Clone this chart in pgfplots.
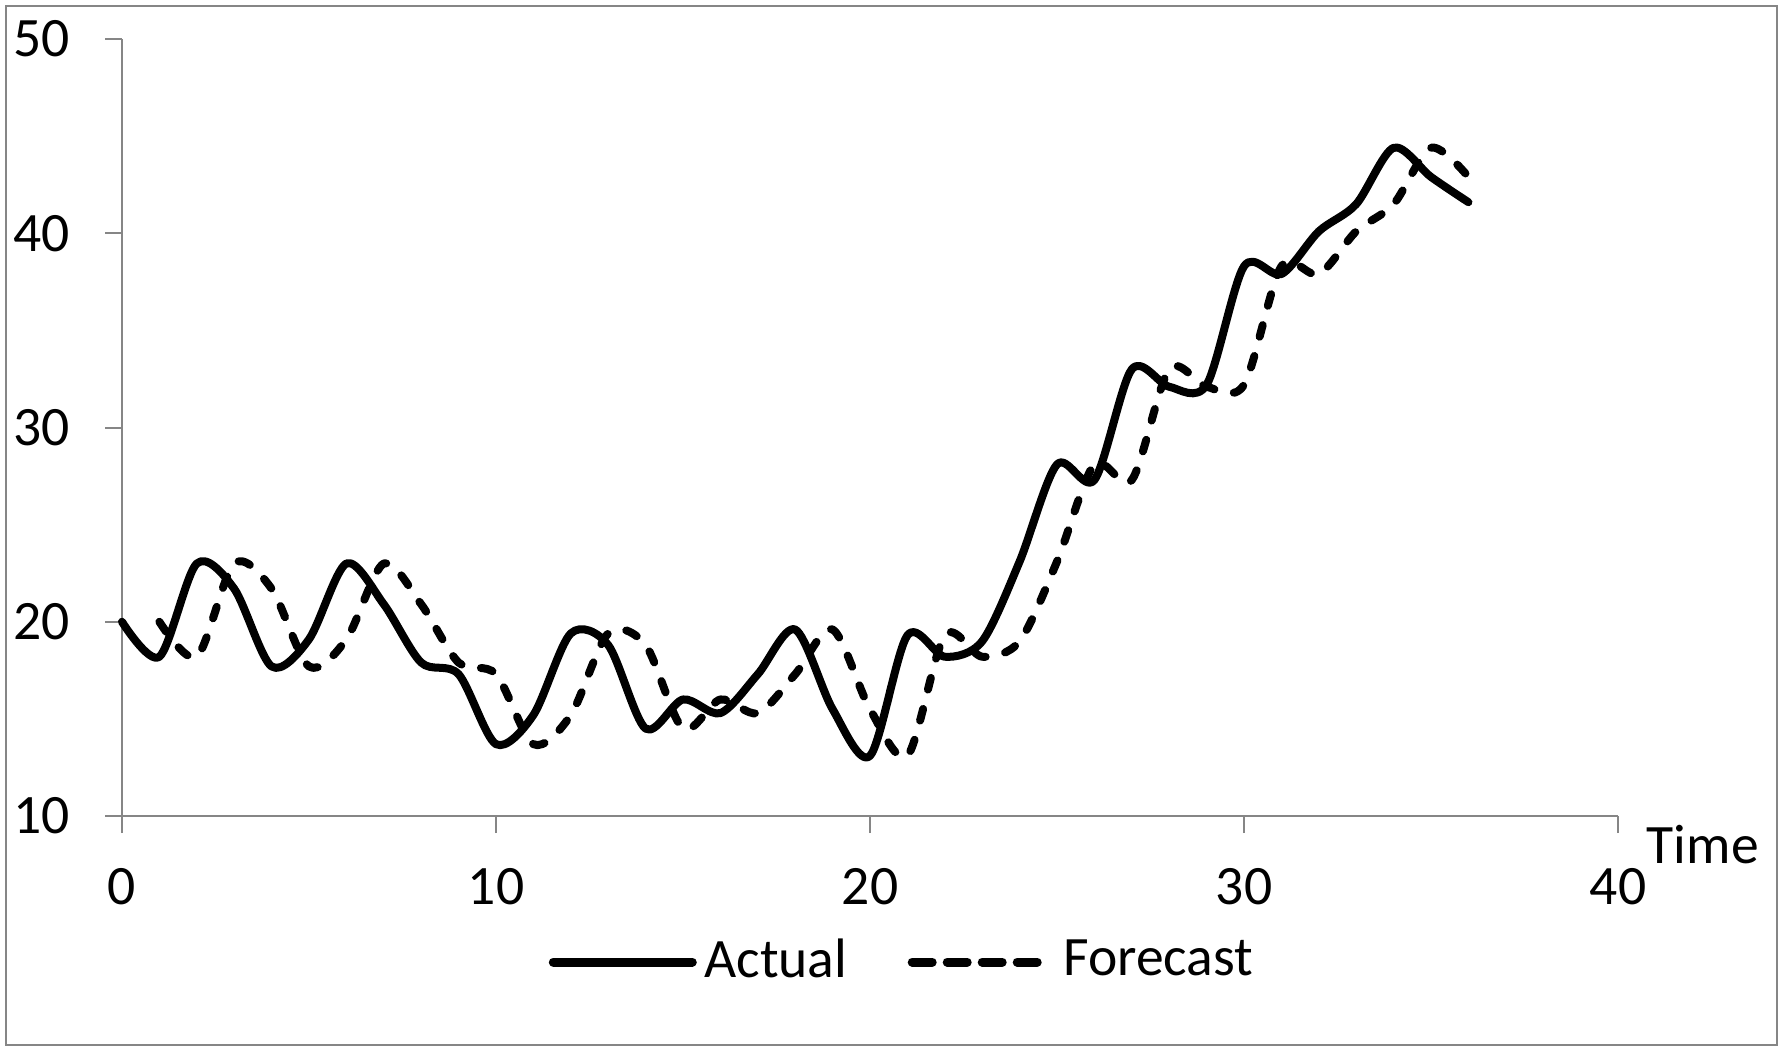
\documentclass[border=0pt]{standalone}
\usepackage{pgfplots}
\pgfplotsset{compat=1.18}
\usepackage{pgfplotstable}
\usepackage{fontspec}
\setmainfont{Carlito}
\definecolor{axgray}{RGB}{134,134,134}
\pgfplotstableread{
t actual
0 20.0
1 18.2
2 23.0
3 21.7
4 17.7
5 19.1
6 23.0
7 20.9
8 17.9
9 17.3
10 13.7
11 15.2
12 19.4
13 18.8
14 14.5
15 16.0
16 15.3
17 17.3
18 19.6
19 15.5
20 13.1
21 19.3
22 18.2
23 19.0
24 23.1
25 28.1
26 27.3
27 33.0
28 32.1
29 32.2
30 38.3
31 37.9
32 40.1
33 41.5
34 44.4
35 42.9
36 41.6
}\actualtab
\pgfplotstableread{
t forecast
1 20.0
2 18.2
3 23.0
4 21.7
5 17.7
6 19.1
7 23.0
8 20.9
9 17.9
10 17.3
11 13.7
12 15.2
13 19.4
14 18.8
15 14.5
16 16.0
17 15.3
18 17.3
19 19.6
20 15.5
21 13.1
22 19.3
23 18.2
24 19.0
25 23.1
26 28.1
27 27.3
28 33.0
29 32.1
30 32.2
31 38.3
32 37.9
33 40.1
34 41.5
35 44.4
36 42.9
}\forecasttab
\begin{document}
\fontsize{13.9}{16.5}\selectfont
\begin{tikzpicture}
\useasboundingbox (-30.5pt,-59.25pt) rectangle (415.5pt,204pt);
\draw[axgray, line width=0.6pt] (-29pt,-57.25pt) rectangle (413.75pt,202.5pt);
\begin{axis}[
  at={(0pt,0pt)}, anchor=origin,
  scale only axis,
  width=374pt, height=194.25pt,
  xmin=0, xmax=40, ymin=10, ymax=50,
  axis x line*=bottom, axis y line*=left,
  axis line style={axgray, line width=0.5pt, -},
  xtick={0,10,20,30,40}, ytick={10,20,30,40,50},
  minor tick num=0,
  tick align=outside,
  major tick length=4.25pt,
  tick style={axgray, line width=0.5pt},
  /pgf/number format/assume math mode=true,
  ticklabel style={font=\fontsize{13.9}{16.5}\selectfont},
  yticklabel style={xshift=-4pt},
  xticklabel style={yshift=-4pt},
  clip=false,
  legend columns=2,
  legend style={draw=none, fill=none, inner sep=0pt, outer sep=0pt,
    at={(0.2853,-0.1879)}, anchor=west,
    font=\fontsize{13.9}{16.5}\selectfont,
    nodes={inner sep=0pt, outer sep=0pt},
    /tikz/every odd column/.append style={column sep=1.9pt},
    /tikz/every even column/.append style={column sep=15.1pt}},
  legend image code/.code={\draw[#1, line width=2.25pt] (0pt,0pt) -- (34.75pt,0pt);},
]
\addplot[black, line width=2pt, smooth, line cap=round, line join=round] table[x=t, y=actual] {\actualtab};
\addlegendentry{Actual}
\addplot[black, line width=2pt, smooth, line cap=round, line join=round, dash pattern=on 3pt off 5pt,
  legend image code/.code={\draw[black, line width=2.25pt, line cap=round, dash pattern=on 5pt off 3.75pt] (0pt,0pt) -- (34.75pt,0pt);}] table[x=t, y=forecast] {\forecasttab};
\addlegendentry{Forecast}
\node[anchor=base west, inner sep=0pt, font=\fontsize{13.9}{16.5}\selectfont] at ([xshift=7pt, yshift=-11.75pt]rel axis cs:1,0) {Time};
\end{axis}
\end{tikzpicture}
\end{document}
